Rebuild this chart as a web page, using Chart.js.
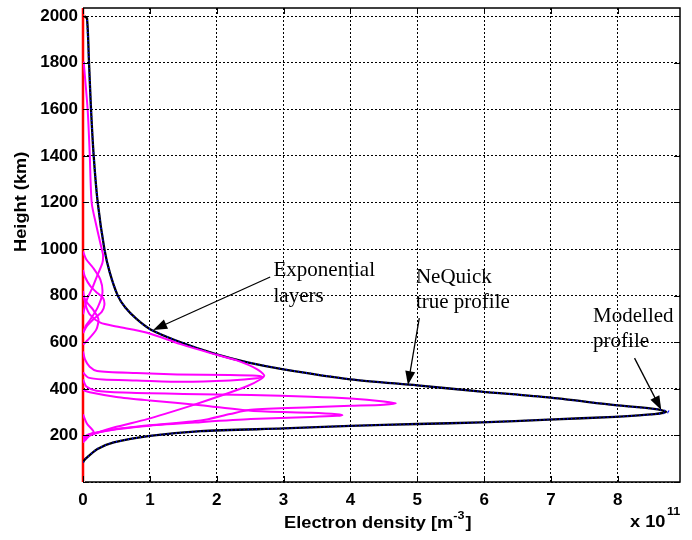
<!DOCTYPE html>
<html>
<head>
<meta charset="utf-8">
<script src="https://cdn.jsdelivr.net/npm/chart.js@4.4.1/dist/chart.umd.min.js"></script>
<style>
  html, body { margin: 0; padding: 0; background: #fff; }
  #wrap { width: 692px; height: 540px; position: relative; }
</style>
</head>
<body>
<div id="wrap"><canvas id="chart" width="692" height="540"></canvas></div>
<script>
// ---- data (electron density in 1e11 m^-3, height in km) ----
const xTicks = [0, 1, 2, 3, 4, 5, 6, 7, 8];
const yTicks = [0, 200, 400, 600, 800, 1000, 1200, 1400, 1600, 1800, 2000];

// NeQuick true profile
const trueDensity = [0, 0.04, 0.21, 0.46, 1.0, 1.76, 3.0, 4.0, 5.0, 5.96, 6.96, 7.96, 8.55, 8.72, 8.6, 7.96, 6.96, 5.96, 5.0, 4.0, 3.0, 2.46, 2.0, 1.46, 1.01, 0.8, 0.63, 0.52, 0.4, 0.32, 0.22, 0.16, 0.12, 0.09, 0.06, 0.02];
const trueHeight  = [85, 100, 141, 170, 198, 218, 230, 241, 249, 256, 268, 280, 291, 301, 312, 330, 363, 388, 415, 441, 484, 514, 548, 600, 655, 700, 750, 800, 900, 1000, 1200, 1400, 1600, 1800, 1990, 2000];

// modelled profile (sum of the layers), almost on top of the true one
const modelDensity = [0, 0.04, 0.21, 0.46, 1.0, 1.76, 3.0, 4.0, 5.0, 5.96, 6.96, 7.96, 8.6, 8.78, 8.62, 7.96, 6.96, 5.96, 5.0, 4.0, 3.0, 2.46, 2.0, 1.46, 1.01, 0.8, 0.63, 0.52, 0.4, 0.32, 0.22, 0.16, 0.12, 0.09, 0.06];
const modelHeight  = [85, 100, 141, 170, 198, 218, 230, 241, 249, 256, 268, 280, 292, 301, 311, 330, 363, 388, 415, 441, 484, 514, 548, 600, 655, 700, 750, 800, 900, 1000, 1200, 1400, 1600, 1800, 1990];

// exponential layers
const layerC_N  = [0, 0.05, 0.11, 0.46, 0.96, 1.61, 2.06, 2.46, 2.65, 2.71, 2.6, 2.3, 2.0, 1.46, 0.96, 0.5, 0.26, 0.1, 0.04, 0];
const layerC_H  = [170, 185, 200, 234, 270, 327, 370, 412, 440, 458, 485, 522, 546, 592, 641, 668, 684, 720, 760, 820];
const layerC2_N = [0, 0.08, 0.3, 0.8, 1.5, 2.2, 2.6, 2.68, 2.6, 2.2, 1.41, 0.8, 0.21, 0.1, 0.03, 0];
const layerC2_H = [470, 448, 440, 436, 430, 436, 445, 452, 456, 459, 462, 468, 477, 495, 526, 560];
const layerA_N  = [0, 0.1, 0.5, 1.0, 1.76, 2.2, 2.51, 3.41, 4.0, 4.5, 4.68, 4.5, 4.0, 3.41, 2.51, 1.5, 0.6, 0.2, 0.05, 0];
const layerA_H  = [192, 206, 228, 244, 264, 292, 310, 321, 327, 332, 338, 346, 358, 366, 373, 378, 384, 392, 410, 440];
const layerB_N  = [0, 0.1, 0.5, 1.0, 1.76, 2.51, 3.41, 3.8, 3.88, 3.8, 3.41, 2.51, 1.76, 1.0, 0.5, 0.1, 0];
const layerB_H  = [188, 204, 226, 242, 257, 270, 279, 284, 287, 291, 297, 306, 330, 350, 365, 385, 395];
const layerTop_N = [0, 0.06, 0.15, 0.21, 0.29, 0.3, 0.28, 0.2, 0.13, 0.1, 0.07, 0.01];
const layerTop_H = [720, 784, 840, 884, 940, 975, 1000, 1100, 1199, 1413, 1597, 1805];
const layer2_N  = [0, 0.04, 0.11, 0.22, 0.29, 0.26, 0.15, 0.05, 0];
const layer2_H  = [640, 670, 698, 750, 810, 869, 920, 955, 990];
const layer3_N  = [0, 0.06, 0.16, 0.28, 0.32, 0.3, 0.22, 0.11, 0.03, 0];
const layer3_H  = [640, 670, 700, 730, 760, 790, 810, 841, 880, 910];
const layer4_N  = [0, 0.08, 0.2, 0.23, 0.15, 0.06, 0];
const layer4_H  = [590, 612, 655, 700, 740, 770, 800];
const layerLow_N = [0, 0.02, 0.08, 0.16, 0.06, 0];
const layerLow_H = [170, 185, 200, 215, 250, 290];

const zeroN = [0, 0];
const zeroH = [0, 2035];

// annotation text + arrows (data units)
const notes = [
  { lines: ['Exponential', 'layers'], x: 2.85, y: [886, 771], from: [2.8, 880], to: [1.05, 653] },
  { lines: ['NeQuick', 'true profile'], x: 4.98, y: [854, 745], from: [5.03, 704], to: [4.86, 416] },
  { lines: ['Modelled', 'profile'], x: 7.63, y: [686, 581], from: [8.25, 532], to: [8.65, 309] }
];

const pts = (xs, ys) => xs.map((v, i) => ({ x: v, y: ys[i] }));

function line(data, color, width, extra) {
  return Object.assign({
    data, borderColor: color, borderWidth: width, showLine: true,
    pointRadius: 0, tension: 0.25, fill: false
  }, extra || {});
}

const MAG = '#ff00ff';
const SANS = '"Liberation Sans", Arial, sans-serif';

// text a little wider than the font, like the original figure
function wideText(ctx, txt, x, y, sx) {
  ctx.save();
  ctx.translate(x, y);
  ctx.scale(sx, 1);
  ctx.fillText(txt, 0, 0);
  ctx.restore();
  return ctx.measureText(txt).width * sx;
}

const frame = {
  id: 'frame',
  afterDatasetsDraw(chart) {
    const { ctx, chartArea: a, scales: { x, y } } = chart;
    ctx.save();
    ctx.strokeStyle = '#000';
    ctx.lineWidth = 1.5;
    // box (left side is covered by the red zero line)
    ctx.beginPath();
    ctx.moveTo(a.left, a.top); ctx.lineTo(a.right, a.top);
    ctx.lineTo(a.right, a.bottom); ctx.lineTo(a.left + 2, a.bottom);
    ctx.stroke();
    // inward ticks
    ctx.lineWidth = 1;
    xTicks.forEach(v => {
      const px = Math.round(x.getPixelForValue(v)) + 0.5;
      ctx.beginPath();
      ctx.moveTo(px, a.bottom); ctx.lineTo(px, a.bottom - 6);
      ctx.moveTo(px, a.top); ctx.lineTo(px, a.top + 6);
      ctx.stroke();
    });
    yTicks.forEach(v => {
      const py = Math.round(y.getPixelForValue(v)) + 0.5;
      ctx.beginPath();
      ctx.moveTo(a.right, py); ctx.lineTo(a.right - 6, py);
      ctx.moveTo(a.left, py); ctx.lineTo(a.left + 6, py);
      ctx.stroke();
    });

    // annotations
    ctx.fillStyle = '#000';
    ctx.font = '21px "Liberation Serif", "Times New Roman", serif';
    ctx.textBaseline = 'alphabetic';
    notes.forEach(n => {
      n.lines.forEach((t, i) => ctx.fillText(t, x.getPixelForValue(n.x), y.getPixelForValue(n.y[i])));
      const x1 = x.getPixelForValue(n.from[0]), y1 = y.getPixelForValue(n.from[1]);
      const x2 = x.getPixelForValue(n.to[0]), y2 = y.getPixelForValue(n.to[1]);
      const ang = Math.atan2(y2 - y1, x2 - x1);
      ctx.lineWidth = 1.3;
      ctx.beginPath(); ctx.moveTo(x1, y1);
      ctx.lineTo(x2 - 10 * Math.cos(ang), y2 - 10 * Math.sin(ang)); ctx.stroke();
      ctx.beginPath();
      ctx.moveTo(x2, y2);
      ctx.lineTo(x2 - 14 * Math.cos(ang) + 5 * Math.sin(ang), y2 - 14 * Math.sin(ang) - 5 * Math.cos(ang));
      ctx.lineTo(x2 - 14 * Math.cos(ang) - 5 * Math.sin(ang), y2 - 14 * Math.sin(ang) + 5 * Math.cos(ang));
      ctx.closePath(); ctx.fill();
    });

    // axis titles
    const sx = 1.14;
    let cx = 284;
    ctx.font = 'bold 16px ' + SANS;
    cx += wideText(ctx, 'Electron density [m', cx, 528, sx);
    ctx.font = 'bold 11px ' + SANS;
    cx += wideText(ctx, '-3', cx, 519, sx);
    ctx.font = 'bold 16px ' + SANS;
    wideText(ctx, ']', cx + 1, 528, sx);
    wideText(ctx, 'x 10', 630, 527, sx);
    ctx.font = 'bold 11px ' + SANS;
    wideText(ctx, '11', 667, 515, sx);

    ctx.save();
    ctx.translate(26, 252);
    ctx.rotate(-Math.PI / 2);
    ctx.font = 'bold 16px ' + SANS;
    wideText(ctx, 'Height (km)', 0, 0, sx);
    ctx.restore();
    ctx.restore();
  }
};

new Chart(document.getElementById('chart'), {
  type: 'scatter',
  data: {
    datasets: [
      line(pts(layerTop_N, layerTop_H), MAG, 2),
      line(pts(layer2_N, layer2_H), MAG, 2),
      line(pts(layer3_N, layer3_H), MAG, 2),
      line(pts(layer4_N, layer4_H), MAG, 2),
      line(pts(layerLow_N, layerLow_H), MAG, 2),
      line(pts(layerC2_N, layerC2_H), MAG, 2),
      line(pts(layerC_N, layerC_H), MAG, 2),
      line(pts(layerB_N, layerB_H), MAG, 2),
      line(pts(layerA_N, layerA_H), MAG, 2),
      line(pts(modelDensity, modelHeight), '#0000ff', 1.8, { borderDash: [1, 3] }),
      line(pts(trueDensity, trueHeight), '#000', 2.3),
      line(pts(zeroN, zeroH), '#ff0000', 2.5, { tension: 0, clip: 4 })
    ]
  },
  options: {
    responsive: false,
    animation: false,
    layout: { padding: { left: 0, right: 12, top: 8, bottom: 0 } },
    plugins: { legend: { display: false }, tooltip: { enabled: false } },
    scales: {
      x: {
        type: 'linear', min: 0, max: 8.93,
        afterBuildTicks: s => { s.ticks = xTicks.map(v => ({ value: v })); },
        afterFit: s => { s.height = 58; s.paddingLeft = 0; s.paddingRight = 0; },
        grid: { color: '#000', lineWidth: 1, drawTicks: false },
        border: { display: false, dash: [2, 2] },
        ticks: {
          color: '#000', padding: 8, maxRotation: 0,
          font: { family: SANS, size: 17, weight: 'bold' }
        }
      },
      y: {
        type: 'linear', min: 0, max: 2035,
        afterBuildTicks: s => { s.ticks = yTicks.map(v => ({ value: v })); },
        afterFit: s => { s.width = 83; s.paddingTop = 0; s.paddingBottom = 0; },
        grid: { color: '#000', lineWidth: 1, drawTicks: false },
        border: { display: false, dash: [2, 2] },
        ticks: {
          color: '#000', padding: 5,
          callback: v => (v === 0 ? '' : v),
          font: { family: SANS, size: 17, weight: 'bold' }
        }
      }
    }
  },
  plugins: [frame]
});
</script>
</body>
</html>
